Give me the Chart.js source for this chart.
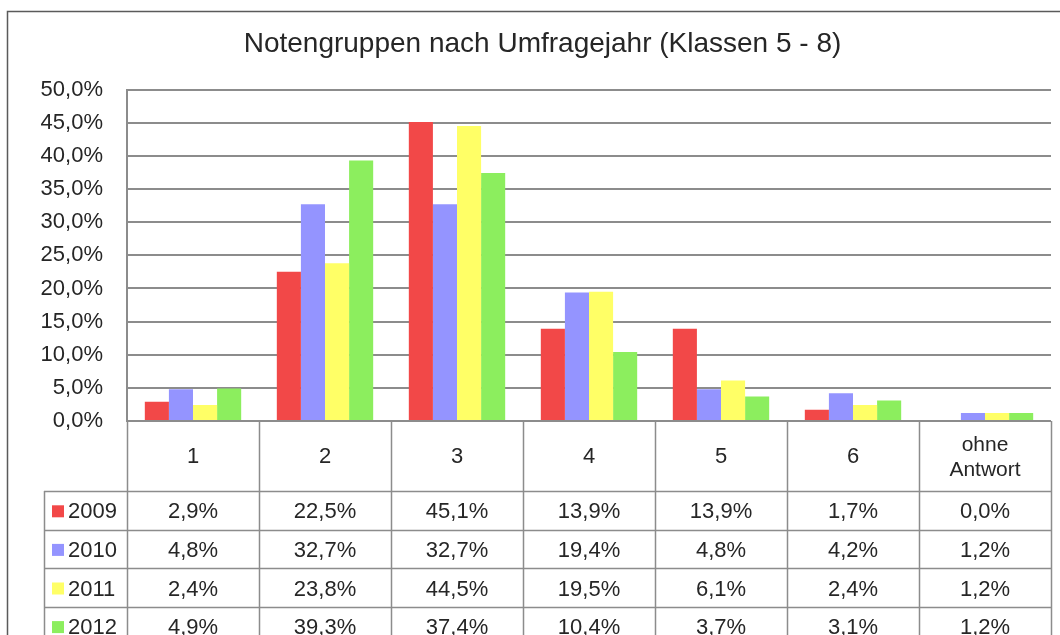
<!DOCTYPE html>
<html>
<head>
<meta charset="utf-8">
<script src="https://cdn.jsdelivr.net/npm/chart.js@4.4.1/dist/chart.umd.min.js"></script>
<style>
  html, body { margin: 0; padding: 0; background: #ffffff; }
  #wrap { width: 1060px; height: 635px; }
</style>
</head>
<body>
<div id="wrap"><canvas id="c" width="1060" height="635"></canvas></div>
<script>
const titleText = 'Notengruppen nach Umfragejahr (Klassen 5 - 8)';
const categories = ['1', '2', '3', '4', '5', '6', ['ohne', 'Antwort']];
const years = ['2009', '2010', '2011', '2012'];
const values2009 = [2.9, 22.5, 45.1, 13.9, 13.9, 1.7, 0.0];
const values2010 = [4.8, 32.7, 32.7, 19.4, 4.8, 4.2, 1.2];
const values2011 = [2.4, 23.8, 44.5, 19.5, 6.1, 2.4, 1.2];
const values2012 = [4.9, 39.3, 37.4, 10.4, 3.7, 3.1, 1.2];
const seriesValues = [values2009, values2010, values2011, values2012];
const colors = ['#F24848', '#9494FF', '#FFFF66', '#8CEE5E'];

const FONT = '"Liberation Sans", Arial, sans-serif';
const TEXT = '#262626';
const LINE = '#8c8c8c';
const fmt = v => v.toFixed(1).replace('.', ',') + '%';

const tablePlugin = {
  id: 'tablePlugin',
  beforeDraw(chart) {
    const ctx = chart.ctx;
    ctx.save();
    ctx.fillStyle = '#ffffff';
    ctx.fillRect(0, 0, chart.width, chart.height);
    ctx.strokeStyle = '#5a5a5a';
    ctx.lineWidth = 1.5;
    ctx.beginPath();
    ctx.moveTo(7.5, chart.height + 5);
    ctx.lineTo(7.5, 11.5);
    ctx.lineTo(chart.width + 5, 11.5);
    ctx.stroke();
    ctx.restore();
  },
  afterDraw(chart) {
    const ctx = chart.ctx;
    const xs = chart.scales.x;
    const area = chart.chartArea;
    const n = categories.length;
    const step = (area.right - area.left) / n;
    const headerBottom = area.bottom + 70;
    const rowH = 38.6;
    const legendLeft = 44;
    const bottom = chart.height + 5;
    ctx.save();
    ctx.strokeStyle = LINE;
    ctx.lineWidth = 1.5;
    ctx.beginPath();
    for (let i = 0; i <= n; i++) {
      const xb = Math.round(xs.getPixelForValue(i) - step / 2) + 0.5;
      ctx.moveTo(xb, area.bottom);
      ctx.lineTo(xb, bottom);
    }
    ctx.moveTo(legendLeft + 0.5, headerBottom);
    ctx.lineTo(legendLeft + 0.5, bottom);
    for (let r = 0; r <= years.length; r++) {
      const yb = Math.round(headerBottom + r * rowH) + 0.5;
      ctx.moveTo(legendLeft, yb);
      ctx.lineTo(area.right, yb);
    }
    ctx.stroke();

    ctx.fillStyle = TEXT;
    ctx.font = '22px ' + FONT;
    ctx.textAlign = 'center';
    ctx.textBaseline = 'middle';
    categories.forEach((c, i) => {
      const cx = xs.getPixelForValue(i);
      const cy = (area.bottom + headerBottom) / 2 + 1;
      if (Array.isArray(c)) {
        ctx.font = '21px ' + FONT;
        ctx.fillText(c[0], cx, cy - 12);
        ctx.fillText(c[1], cx, cy + 13);
        ctx.font = '22px ' + FONT;
      } else {
        ctx.fillText(c, cx, cy);
      }
    });
    years.forEach((yr, r) => {
      const cy = headerBottom + r * rowH + rowH / 2 + 2;
      ctx.fillStyle = colors[r];
      ctx.fillRect(legendLeft + 8, cy - 7, 12, 12);
      ctx.fillStyle = TEXT;
      ctx.textAlign = 'left';
      ctx.fillText(yr, legendLeft + 24, cy);
      ctx.textAlign = 'center';
      seriesValues[r].forEach((v, i) => {
        ctx.fillText(fmt(v), xs.getPixelForValue(i), cy);
      });
    });
    ctx.restore();
  }
};

new Chart(document.getElementById('c'), {
  type: 'bar',
  data: {
    labels: categories,
    datasets: years.map((y, k) => ({
      label: y,
      data: seriesValues[k],
      backgroundColor: colors[k],
      borderWidth: 0,
      categoryPercentage: 0.73,
      barPercentage: 1.0
    }))
  },
  options: {
    responsive: false,
    animation: false,
    devicePixelRatio: 1,
    layout: { padding: { left: 34, right: 9, top: 0, bottom: 214 } },
    plugins: {
      legend: { display: false },
      tooltip: { enabled: false },
      title: {
        display: true,
        text: titleText,
        color: TEXT,
        font: { family: FONT, size: 28, weight: 'normal' },
        padding: { top: 27, bottom: 29 }
      }
    },
    scales: {
      x: {
        display: false,
        grid: { display: false }
      },
      y: {
        min: 0,
        max: 50,
        afterFit(s) { s.width = 93; },
        ticks: {
          stepSize: 5,
          padding: 24,
          color: TEXT,
          font: { family: FONT, size: 22 },
          callback: v => fmt(v)
        },
        grid: { color: LINE, lineWidth: 2, drawTicks: false },
        border: { display: true, color: LINE, width: 2 }
      }
    }
  },
  plugins: [tablePlugin]
});
</script>
</body>
</html>
